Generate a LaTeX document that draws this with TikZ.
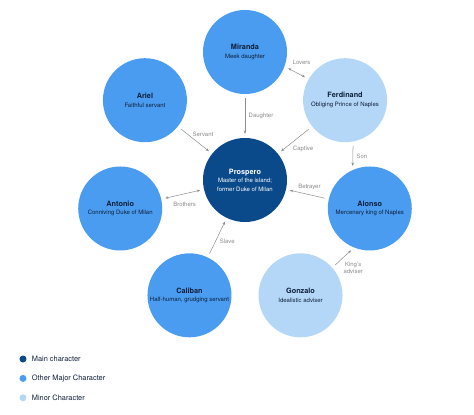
\documentclass[tikz,border=0pt]{standalone}
\usepackage{fontspec}
\setmainfont{TeX Gyre Heros}
\usetikzlibrary{arrows.meta, positioning}
\definecolor{mainc}{HTML}{0B4A8A}
\definecolor{majorc}{HTML}{4A9CF0}
\definecolor{minorc}{HTML}{B4D7F8}
\definecolor{inkc}{HTML}{0E1F3A}
\definecolor{relc}{HTML}{8E8E8E}
\definecolor{lblc}{HTML}{8A8A8A}
\tikzset{
  person/.style={circle,inner sep=0pt,minimum size=84pt,align=center,text=inkc,font=\fontsize{6}{8.6}\selectfont},
  main/.style={person,fill=mainc,text=white},
  major/.style={person,fill=majorc},
  minor/.style={person,fill=minorc},
  rel/.style={draw=relc,line width=0.5pt,-{Stealth[length=3.2pt,width=2.6pt]},shorten <=4pt,shorten >=4pt},
  mutual/.style={rel,{Stealth[length=3.2pt,width=2.6pt]}-{Stealth[length=3.2pt,width=2.6pt]}},
  lbl/.style={font=\fontsize{6}{7}\selectfont,text=lblc,inner sep=0pt,align=center},
  dot/.style={circle,inner sep=0pt,minimum size=7pt},
  legtext/.style={font=\fontsize{7.4}{9}\selectfont,text=inkc,inner sep=0pt}
}
\newcommand{\pname}[1]{{\fontsize{7.3}{8.6}\selectfont\bfseries #1}}

\begin{document}
\begin{tikzpicture}[x=1pt,y=1pt]
\useasboundingbox (-245,-235) rectangle (229,180);
\node[main] (pro) at (0,0) {\pname{Prospero}\\Master of the island;\\former Duke of Milan};
\node[major] (mir) at (90:128) {\pname{Miranda}\\Meek daughter};
\node[minor] (fer) at (38.57:128) {\pname{Ferdinand}\\Obliging Prince of Naples};
\node[major] (alo) at (-12.86:128) {\pname{Alonso}\\Mercenary king of Naples};
\node[minor] (gon) at (-64.29:128) {\pname{Gonzalo}\\Idealistic adviser};
\node[major] (cal) at (-115.71:128) {\pname{Caliban}\\Half-human, grudging servant};
\node[major] (ant) at (-167.14:128) {\pname{Antonio}\\Conniving Duke of Milan};
\node[major] (ari) at (141.43:128) {\pname{Ariel}\\Faithful servant};

\draw[rel] (mir) -- node[lbl,shift={(16,0)}] {Daughter} (pro);
\draw[mutual] (mir.-20) -- node[lbl,shift={(5,10)}] {Lovers} (fer.150);
\draw[rel] (fer) -- node[lbl,shift={(8,-9)}] {Captive} (pro);
\draw[rel] (fer.-79) -- node[lbl,shift={(9,-1)}] {Son} (alo.114);
\draw[rel] (ari) -- node[lbl,shift={(8,6)}] {Servant} (pro);
\draw[mutual] (ant) -- node[lbl,shift={(2,-10)}] {Brothers} (pro);
\draw[rel] (alo) -- node[lbl,shift={(2,7)}] {Betrayer} (pro);
\draw[rel] (cal) -- node[lbl,shift={(10,-4)}] {Slave} (pro);
\draw[rel] (gon.41) -- node[lbl,shift={(10,-10)}] {King's\\adviser} (alo.248);

% legend
\node[dot,fill=mainc] (kmain) at (-222,-179) {};
\node[legtext,right=5pt of kmain] (tmain) {Main character};
\node[dot,fill=majorc,below=12pt of kmain] (kmajor) {};
\node[legtext,right=5pt of kmajor] (tmajor) {Other Major Character};
\node[dot,fill=minorc,below=12pt of kmajor] (kminor) {};
\node[legtext,right=5pt of kminor] (tminor) {Minor Character};
\end{tikzpicture}
\end{document}
